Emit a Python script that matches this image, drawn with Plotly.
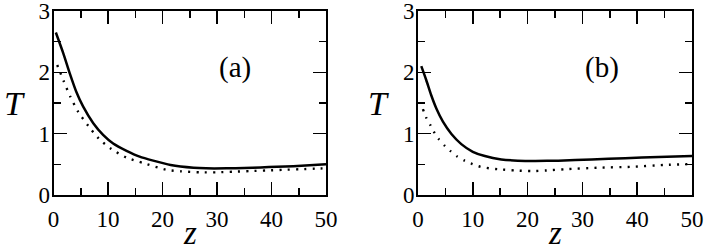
import plotly.graph_objects as go

# ---- data ----
z_a_solid = [0.43, 1.8, 3.0, 4.2, 5.45, 7.3, 9.1, 10.95, 13.4, 15.8, 18.3, 21.5, 25.7, 28, 31.8, 35, 38, 41, 44, 47, 50]
T_a_solid = [2.65, 2.31, 1.98, 1.68, 1.44, 1.17, 0.98, 0.84, 0.72, 0.625, 0.56, 0.49, 0.445, 0.435, 0.435, 0.44, 0.45, 0.46, 0.47, 0.485, 0.50]

z_a_dot = [0.68, 1.9, 3.1, 4.5, 6.4, 8.3, 10.6, 13.4, 16.5, 20.8, 23.5, 26.9, 30, 33, 36, 39.2, 42, 45.3, 48, 50]
T_a_dot = [2.12, 1.85, 1.60, 1.36, 1.125, 0.92, 0.75, 0.61, 0.52, 0.41, 0.385, 0.37, 0.37, 0.38, 0.39, 0.40, 0.41, 0.42, 0.43, 0.435]

z_b_solid = [0.6, 1.5, 2.4, 3.35, 4.55, 6.1, 7.9, 10, 12.2, 15.2, 18.2, 21.4, 25.6, 31.7, 37.8, 43.9, 50]
T_b_solid = [2.10, 1.875, 1.63, 1.41, 1.195, 0.995, 0.83, 0.705, 0.635, 0.58, 0.56, 0.555, 0.56, 0.58, 0.60, 0.62, 0.635]

z_b_dot = [0.9, 1.5, 2.25, 2.9, 3.8, 4.9, 6.0, 7.2, 8.5, 9.9, 11.4, 13, 14.6, 17.7, 20.7, 23.5, 26.8, 32.9, 39, 45, 50]
T_b_dot = [1.40, 1.26, 1.14, 1.03, 0.91, 0.80, 0.71, 0.625, 0.56, 0.505, 0.46, 0.435, 0.42, 0.40, 0.39, 0.40, 0.42, 0.445, 0.46, 0.49, 0.505]

x_ticks = [0, 10, 20, 30, 40, 50]
y_ticks = [0, 1, 2, 3]
panel_labels = ["(a)", "(b)"]

W, H = 706, 249
SERIF = "Liberation Serif"

fig = go.Figure()

solid = dict(color="black", width=2.5, shape="spline", smoothing=0.6)
dotted = dict(color="black", width=2.4, dash="2px,6.3px", shape="spline", smoothing=0.6)

fig.add_trace(go.Scatter(x=z_a_solid, y=T_a_solid, mode="lines", line=solid, xaxis="x", yaxis="y"))
fig.add_trace(go.Scatter(x=z_a_dot, y=T_a_dot, mode="lines", line=dotted, xaxis="x", yaxis="y"))
fig.add_trace(go.Scatter(x=z_b_solid, y=T_b_solid, mode="lines", line=solid, xaxis="x2", yaxis="y2"))
fig.add_trace(go.Scatter(x=z_b_dot, y=T_b_dot, mode="lines", line=dotted, xaxis="x2", yaxis="y2"))

def px_x(p):
    return p / W

def px_y(p):
    return 1 - p / H

xdom_a = [px_x(53.5), px_x(326)]
xdom_b = [px_x(418), px_x(692)]
ydom = [px_y(195), px_y(11)]

common_axis = dict(
    showline=True, linecolor="black", linewidth=2, mirror="allticks",
    ticks="inside", ticklen=13, tickwidth=1.5, tickcolor="black",
    showgrid=False, zeroline=False, automargin=False,
    ticklabeloverflow="allow",
    tickfont=dict(family=SERIF, size=23, color="black"),
)

xaxis_common = dict(common_axis, range=[0, 50], tickvals=x_ticks, ticklabelstandoff=2,
                    minor=dict(ticks="inside", ticklen=7, tickwidth=1.5, tickcolor="black", dtick=5, showgrid=False))
yaxis_common = dict(common_axis, range=[0, 3], tickvals=y_ticks, ticklabelstandoff=-3,
                    minor=dict(ticks="inside", ticklen=7, tickwidth=1.5, tickcolor="black", dtick=0.5, showgrid=False))

fig.update_layout(
    width=W, height=H,
    margin=dict(l=0, r=0, t=0, b=0, autoexpand=False),
    paper_bgcolor="white", plot_bgcolor="white",
    font=dict(family=SERIF, color="black"),
    showlegend=False,
    hovermode=False,
    xaxis=dict(xaxis_common, domain=xdom_a, anchor="y"),
    yaxis=dict(yaxis_common, domain=ydom, anchor="x"),
    xaxis2=dict(xaxis_common, domain=xdom_b, anchor="y2"),
    yaxis2=dict(yaxis_common, domain=ydom, anchor="x2"),
)

ann = []
# axis titles
for xc, yl in [((53.5 + 326) / 2, 14), ((418 + 692) / 2, 378)]:
    ann.append(dict(text="<i>z</i>", x=px_x(xc), y=px_y(233), xref="paper", yref="paper",
                    showarrow=False, font=dict(family=SERIF, size=33, color="black"),
                    xanchor="center", yanchor="middle"))
    ann.append(dict(text="<i>T</i>", x=px_x(yl), y=px_y(103), xref="paper", yref="paper",
                    showarrow=False, font=dict(family=SERIF, size=34, color="black"),
                    xanchor="center", yanchor="middle"))
# panel labels
for lbl, xc in zip(panel_labels, [235.5, 601.5]):
    ann.append(dict(text=lbl, x=px_x(xc), y=px_y(67), xref="paper", yref="paper",
                    showarrow=False, font=dict(family=SERIF, size=29, color="black"),
                    xanchor="center", yanchor="middle"))
fig.update_layout(annotations=ann)

# remove the default 8px page margin so the figure sits at the window origin
fig.write_html("out.html", config={"displayModeBar": False, "staticPlot": True},
               post_script="document.body.style.margin='0';")
